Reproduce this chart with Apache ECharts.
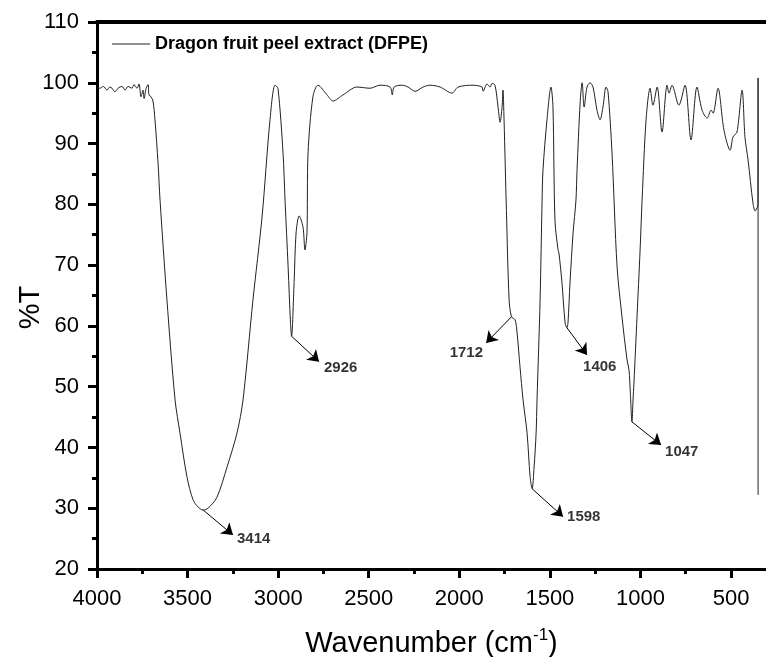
<!DOCTYPE html>
<html>
<head>
<meta charset="utf-8">
<script src="https://cdn.jsdelivr.net/npm/echarts@6/dist/echarts.min.js"></script>
<style>
html,body{margin:0;padding:0;background:#fff;}
#chart{width:766px;height:657px;}
</style>
</head>
<body>
<div id="chart"></div>
<script>
// Wavenumber (cm-1) and transmittance (%T)
const wavenumber = [
  4000, 3983, 3965, 3945, 3930, 3917, 3901, 3884, 3862, 3845, 3829, 3807, 3796, 3779, 3768,
  3757, 3746, 3740, 3729, 3718, 3713, 3702, 3691, 3680, 3663, 3652, 3614, 3569, 3542, 3503,
  3470, 3442, 3414, 3387, 3338, 3282, 3227, 3194, 3139, 3089, 3045, 3017, 3001, 2973, 2962,
  2945, 2932, 2926, 2912, 2901, 2884, 2863, 2852, 2841, 2835, 2808, 2780, 2730, 2697, 2642,
  2565, 2493, 2438, 2382, 2370, 2360, 2316, 2283, 2244, 2200, 2162, 2106, 2040, 2007, 1924,
  1875, 1869, 1847, 1830, 1819, 1803, 1786, 1775, 1764, 1759, 1753, 1740, 1725, 1712, 1692,
  1681, 1665, 1648, 1626, 1609, 1598, 1587, 1576, 1571, 1554, 1543, 1538, 1516, 1494, 1483,
  1472, 1455, 1450, 1433, 1416, 1406, 1400, 1389, 1372, 1356, 1350, 1333, 1322, 1311, 1295,
  1278, 1262, 1240, 1223, 1207, 1190, 1179, 1157, 1129, 1102, 1074, 1063, 1056, 1047, 1041,
  1036, 1019, 1002, 991, 969, 947, 931, 908, 881, 853, 842, 826, 788, 754, 721,
  688, 660, 632, 610, 599, 572, 539, 505, 489, 467, 439, 423, 406, 379, 367,
  355, 351, 350.9, 350.8
];
const transmittance = [
  99.3, 99.1, 99.4, 98.8, 99.3, 99.1, 98.5, 99.1, 99.4, 98.8, 99.4, 99.1, 99.7, 99.1, 99.8,
  97.7, 98.8, 97.4, 99.1, 99.7, 98.0, 97.7, 97.0, 93.9, 86.8, 80.7, 64.3, 47.8, 42.4, 35.1,
  31.4, 30.2, 29.7, 30.0, 31.8, 36.8, 42.4, 47.8, 64.3, 77.9, 93.9, 99.6, 99.1, 88.4, 80.7,
  69.7, 60.5, 58.3, 67.1, 75.3, 78.1, 76.3, 72.5, 75.3, 88.4, 97.7, 99.6, 98.0, 97.0, 98.0,
  99.3, 99.1, 99.6, 99.3, 98.0, 99.3, 99.6, 99.3, 98.6, 99.3, 99.6, 99.3, 98.3, 99.3, 99.6,
  99.3, 98.6, 99.8, 99.3, 99.9, 99.6, 96.0, 93.5, 96.0, 98.8, 93.9, 79.0, 64.3, 61.5, 61.0,
  58.8, 53.3, 47.8, 42.4, 35.1, 33.2, 36.8, 42.4, 47.8, 64.3, 80.7, 85.7, 93.9, 99.3, 96.0,
  77.4, 72.5, 72.0, 67.0, 60.5, 59.7, 60.5, 67.1, 75.3, 80.7, 85.7, 96.7, 100.0, 96.0, 99.3,
  100.0, 99.3, 95.5, 93.9, 96.0, 99.3, 98.5, 88.4, 69.7, 61.5, 54.4, 52.7, 49.0, 44.2, 47.8,
  50.6, 61.5, 72.5, 80.7, 93.9, 99.1, 96.3, 99.3, 91.9, 99.6, 98.3, 99.6, 96.3, 99.6, 90.6,
  99.3, 95.5, 94.2, 95.5, 95.0, 99.1, 92.2, 88.9, 91.1, 91.9, 98.8, 91.0, 87.3, 80.2, 78.9,
  79.5, 80.0, 100.8, 32.2
];
const seriesName = 'Dragon fruit peel extract (DFPE)';
const tailCount = 4; // last points form the sharp vertical edge at the low-wavenumber end

// Axis ticks
const xMajorTicks = [4000, 3500, 3000, 2500, 2000, 1500, 1000, 500];
const xMinorTicks = [3750, 3250, 2750, 2250, 1750, 1250, 750];

// Peak annotations
const peakLabels = ['3414', '2926', '1712', '1406', '1598', '1047'];
const peakWn = [3414, 2926, 1712, 1406, 1598, 1047];
const peakT = [29.7, 58.3, 61.5, 59.7, 33.2, 44.2];
const arrowWn = [3249, 2774, 1852, 1295, 1427, 886];
const arrowT = [25.6, 54.1, 57.2, 55.2, 28.6, 40.4];
const labelWn = [3227, 2747, 1869, 1317, 1405, 864];
const labelT = [24.9, 53.1, 55.5, 53.2, 28.6, 39.3];
const labelAlign = ['left', 'left', 'right', 'left', 'left', 'left'];

const FONT = 'Liberation Sans, Arial, sans-serif';
const chart = echarts.init(document.getElementById('chart'), null, {renderer: 'canvas'});

const allPoints = wavenumber.map((w, i) => [w, transmittance[i]]);
const mainPoints = allPoints.slice(0, allPoints.length - tailCount + 1);
const tailPoints = allPoints.slice(allPoints.length - tailCount);
const arrows = peakWn.map((w, i) => [
  {coord: [w, peakT[i]]},
  {coord: [arrowWn[i], arrowT[i]]}
]);
const labels = peakLabels.map((t, i) => ({
  value: [labelWn[i], labelT[i]],
  label: {formatter: t, align: labelAlign[i]}
}));

const xCommon = {type: 'value', min: 307, max: 4000, inverse: true, splitLine: {show: false}};

chart.setOption({
  animation: false,
  backgroundColor: '#fff',
  grid: {left: 97, right: 0, top: 22, bottom: 88, containLabel: false, outerBoundsMode: 'none'},
  legend: {
    left: 107, top: 30,
    icon: 'rect', itemWidth: 38, itemHeight: 1,
    itemStyle: {color: '#222'},
    textStyle: {fontFamily: FONT, fontSize: 18, fontWeight: 'bold', color: '#000'},
    data: [seriesName]
  },
  xAxis: [
    Object.assign({}, xCommon, {
      position: 'bottom',
      name: 'Wavenumber (cm{sup|-1})',
      nameLocation: 'middle',
      nameGap: 58,
      nameMoveOverlap: false,
      nameTextStyle: {
        fontFamily: FONT, fontSize: 29, color: '#000', lineHeight: 34,
        rich: {sup: {fontFamily: FONT, fontSize: 17, color: '#000', verticalAlign: 'top', lineHeight: 14}}
      },
      axisLine: {show: true, onZero: false, lineStyle: {color: '#000', width: 3}},
      axisTick: {show: true, length: 9, lineStyle: {color: '#000', width: 3}, customValues: xMajorTicks},
      axisLabel: {
        show: true, margin: 19, fontFamily: FONT, fontSize: 22, color: '#000',
        customValues: xMajorTicks, formatter: v => String(v)
      }
    }),
    Object.assign({}, xCommon, {
      position: 'bottom',
      axisLine: {show: false},
      axisTick: {show: true, length: 5, lineStyle: {color: '#000', width: 3}, customValues: xMinorTicks},
      axisLabel: {show: false}
    }),
    Object.assign({}, xCommon, {
      position: 'top',
      axisLine: {show: true, onZero: false, lineStyle: {color: '#000', width: 4}},
      axisTick: {show: false},
      axisLabel: {show: false}
    })
  ],
  yAxis: {
    type: 'value', min: 20, max: 110, interval: 10,
    name: '%T', nameLocation: 'middle', nameGap: 52,
    nameMoveOverlap: false,
    nameTextStyle: {fontFamily: FONT, fontSize: 29, color: '#000', padding: [0, 24, 0, 0]},
    axisLine: {show: true, onZero: false, lineStyle: {color: '#000', width: 3}},
    axisTick: {show: true, length: 9, lineStyle: {color: '#000', width: 3}},
    minorTick: {show: true, splitNumber: 2, length: 5, lineStyle: {color: '#000', width: 3}},
    splitLine: {show: false},
    minorSplitLine: {show: false},
    axisLabel: {margin: 18, fontFamily: FONT, fontSize: 22, color: '#000'}
  },
  series: [
    {
      name: seriesName,
      type: 'line',
      xAxisIndex: 0,
      data: mainPoints,
      smooth: 0.3,
      showSymbol: false,
      symbol: 'none',
      lineStyle: {color: '#222', width: 1},
      itemStyle: {color: '#222'},
      markLine: {
        silent: true,
        symbol: ['none', 'arrow'],
        symbolSize: 11,
        label: {show: false},
        lineStyle: {color: '#000', width: 1, type: 'solid'},
        itemStyle: {color: '#000'},
        data: arrows
      }
    },
    {
      name: 'tail',
      type: 'line',
      xAxisIndex: 0,
      data: tailPoints,
      showSymbol: false,
      symbol: 'none',
      lineStyle: {color: '#222', width: 1},
      silent: true
    },
    {
      name: 'labels',
      type: 'scatter',
      xAxisIndex: 0,
      symbolSize: 0,
      silent: true,
      label: {
        show: true, position: [0, 0], verticalAlign: 'middle',
        fontFamily: FONT, fontSize: 15, fontWeight: 'bold', color: '#000'
      },
      data: labels
    }
  ]
});
</script>
</body>
</html>
